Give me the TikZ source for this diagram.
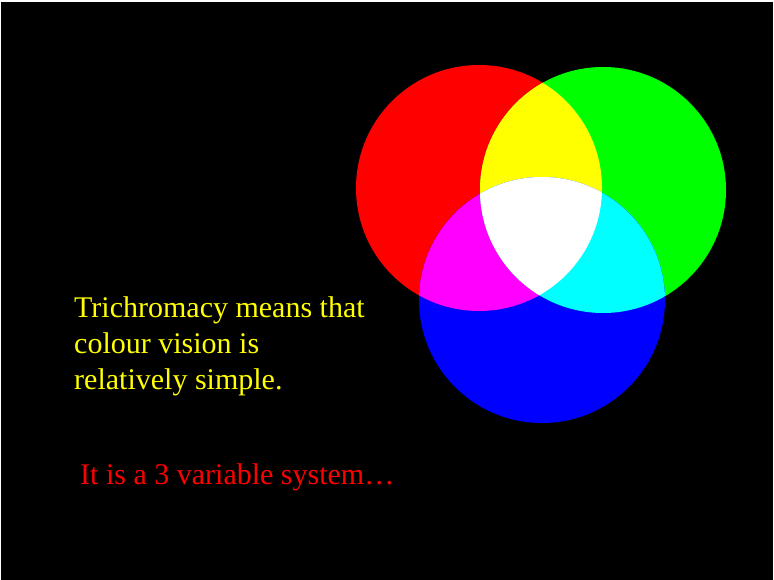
\documentclass[tikz,border=0pt]{standalone}
\usepackage{fontspec}
\setmainfont{Liberation Serif}
\usepackage{xcolor}
\definecolor{lightred}{RGB}{255,0,0}
\definecolor{lightgreen}{RGB}{0,255,0}
\definecolor{lightblue}{RGB}{0,0,255}
\definecolor{lightyellow}{RGB}{255,255,0}
\definecolor{lightmagenta}{RGB}{255,0,255}
\definecolor{lightcyan}{RGB}{0,255,255}
\definecolor{lightwhite}{RGB}{255,255,255}
\newcommand{\rad}{123}
\tikzset{slidetext/.style={anchor=base west,inner sep=0pt,font=\fontsize{30}{36}\selectfont}}

\begin{document}
\begin{tikzpicture}[x=1pt,y=-1pt]
\useasboundingbox (0,0) rectangle (774,580);
\fill[lightwhite] (0,0) rectangle (774,580);
\fill[black] (1,2) rectangle (773,580);

\coordinate (R) at (479,188);
\coordinate (G) at (603,190);
\coordinate (B) at (542,300);

% primary lights
\fill[lightred] (R) circle (\rad);
\fill[lightgreen] (G) circle (\rad);
\fill[lightblue] (B) circle (\rad);

% where two lights meet
\begin{scope}
\clip (R) circle (\rad);
\fill[lightyellow] (G) circle (\rad);
\fill[lightmagenta] (B) circle (\rad);
\end{scope}
\begin{scope}
\clip (G) circle (\rad);
\fill[lightcyan] (B) circle (\rad);
\end{scope}

% all three
\begin{scope}
\clip (R) circle (\rad);
\clip (G) circle (\rad);
\fill[lightwhite] (B) circle (\rad);
\end{scope}

\draw (74,317) node[slidetext,text=lightyellow](line1) {Trichromacy means that};
\draw (74,353) node[slidetext,text=lightyellow](line2) {colour vision is};
\draw (74,389) node[slidetext,text=lightyellow](line3) {relatively simple.};

\draw (80,484) node[slidetext,text=lightred](system) {It is a 3 variable system\ldots};
\end{tikzpicture}
\end{document}
